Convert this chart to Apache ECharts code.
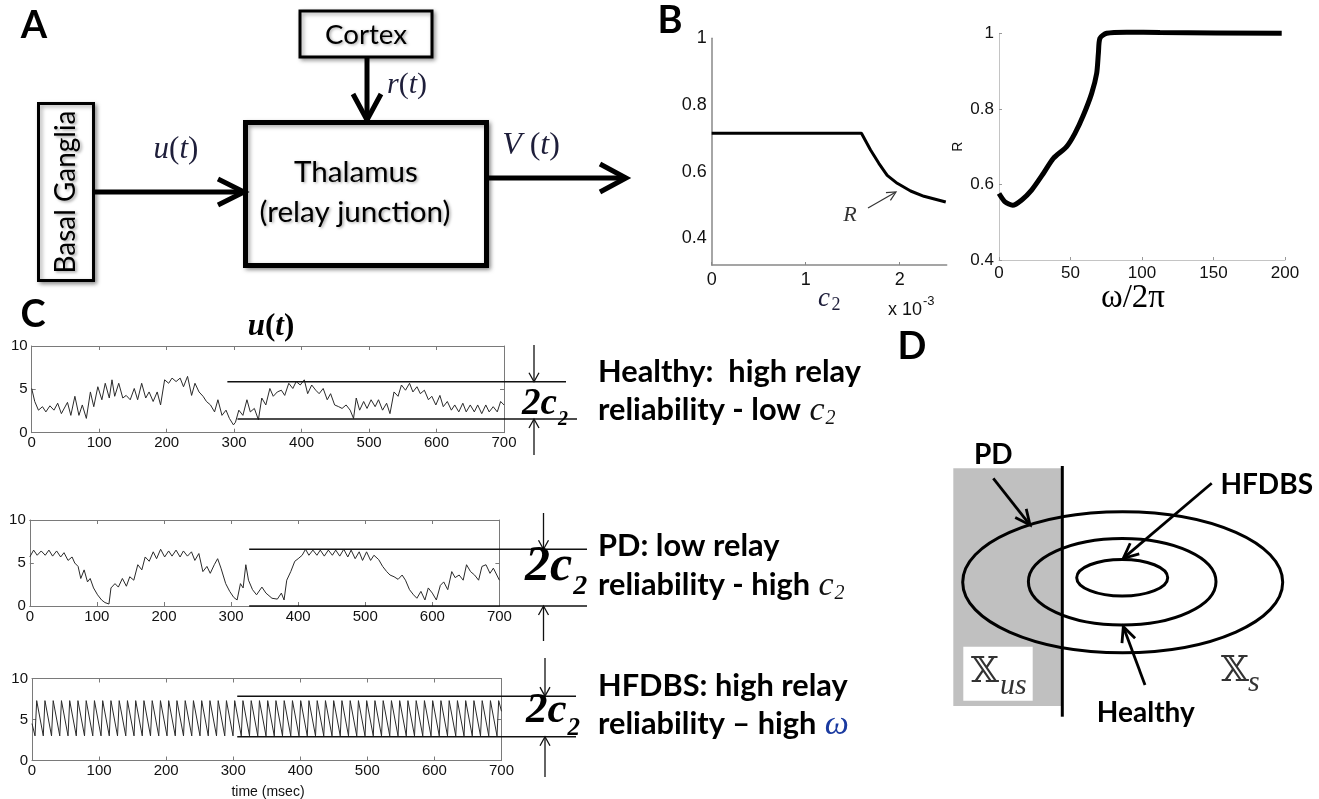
<!DOCTYPE html>
<html><head><meta charset="utf-8">
<script src="https://cdn.jsdelivr.net/npm/echarts@6/dist/echarts.min.js"></script>
<style>html,body{margin:0;padding:0;background:#fff}#main{width:1319px;height:799px}</style>
</head><body><div id="main"></div>
<script>
// ---------------- DATA ----------------
// Panel B left: R vs c2 (x 1e-3)
const c2Curve = [[0,0.715],[1.593,0.715],[1.69,0.665],[1.778,0.625],[1.867,0.589],[1.974,0.565],[2.116,0.542],[2.258,0.526],[2.49,0.509]];
// Panel B right: R vs omega/2pi
const omegaCurve = [[0,0.576],[4.2,0.554],[9.6,0.545],[15.9,0.559],[22.8,0.585],[31,0.629],[38,0.669],[47.3,0.70],[53.1,0.735],[59,0.783],[64.8,0.841],[68.3,0.894],[69.5,0.947],[70.6,0.987],[75.3,1.0],[89.3,1.003],[112.6,1.002],[197.7,1.0]];
// Panel C: u(t), time in msec
const healthyU = [[0,5.1],[4.5,3.6],[10,2.6],[16,3.0],[21,2.4],[27,3.1],[33,2.6],[38.5,3.4],[44,2.2],[53,3.5],[58,2.0],[64,4.2],[70,2.0],[75,3.2],[81,1.65],[87,4.7],[92,3.0],[98,5.3],[104,3.8],[109,5.7],[115,4.0],[119,6.1],[123,4.2],[129,5.7],[135,4.0],[140,4.3],[146,3.8],[152,5.1],[157,3.8],[163,5.7],[169,4.0],[174,4.7],[180,3.6],[186,4.7],[191,3.2],[197,6.1],[203,5.7],[208,6.3],[214,5.9],[220,6.3],[225,5.3],[231,6.5],[237,4.3],[242,5.7],[248,4.7],[254,4.2],[259,3.6],[265,3.2],[271,2.4],[276,3.8],[282,2.0],[288,2.6],[293,1.65],[299,0.9],[302,1.2],[307,2.6],[313,2.0],[319,3.8],[324,2.4],[330,2.8],[336,1.5],[341,4.0],[347,3.2],[353,5.1],[358,4.2],[364,4.7],[370,4.9],[375,4.3],[381,5.7],[387,5.1],[392,5.9],[398,5.5],[404,6.1],[409,4.5],[415,5.5],[421,4.9],[426,4.5],[432,5.1],[438,3.8],[443,4.5],[449,3.2],[455,3.0],[460,2.8],[466,3.2],[472,2.6],[477,1.65],[481,4.0],[486,2.6],[492,3.6],[497,2.8],[503,3.8],[509,3.0],[514,3.8],[520,2.6],[526,3.4],[531,2.2],[537,4.7],[543,4.2],[548,5.5],[554,4.9],[560,5.7],[565,4.7],[571,5.3],[576,4.5],[582,4.9],[588,3.8],[593,4.2],[599,3.2],[605,4.3],[610,3.0],[616,3.6],[622,2.6],[627,3.2],[633,2.4],[639,3.4],[644,2.4],[650,3.2],[656,2.4],[661,3.2],[667,2.2],[673,3.2],[678,2.4],[684,3.0],[690,2.4],[695,3.6],[700,3.2]];
const pdU = [[0,5.7],[5.7,6.5],[11,5.9],[17,6.4],[23,5.9],[28.5,6.5],[34,5.8],[40,6.4],[46,5.7],[51,6.2],[57,5.3],[63,5.7],[67,5.0],[72,4.6],[76,3.2],[81,4.2],[86,2.8],[90,3.2],[95,2.1],[101,1.3],[107,0.7],[112,0.4],[118,0.23],[121,2.1],[127,2.6],[132,2.2],[138,3.2],[144,2.3],[149,3.4],[155,3.0],[161,4.8],[167,4.2],[172,5.7],[178,5.2],[184,6.3],[189,5.5],[195,6.6],[201,5.7],[207,6.4],[212,5.8],[218,6.5],[224,5.7],[229,6.4],[235,5.8],[241,6.3],[246,5.3],[252,6.1],[258,4.0],[264,4.6],[269,3.8],[275,4.8],[280,5.5],[285,4.4],[292,2.6],[298,1.7],[304,1.0],[309,0.7],[314,2.6],[318,2.1],[322,4.8],[326,3.0],[332,1.9],[338,1.3],[346,2.2],[352,1.5],[361,0.9],[369,0.8],[375,1.5],[379,0.7],[383,3.0],[389,4.0],[395,5.2],[400,5.5],[406,5.9],[411,6.6],[416,5.9],[422,6.5],[428,5.9],[433,6.5],[439,5.8],[445,6.5],[451,5.9],[456,6.5],[462,5.8],[468,6.6],[474,5.7],[479,6.5],[485,5.5],[491,6.3],[496,5.3],[502,6.3],[508,5.3],[513,5.9],[520,5.4],[526,4.6],[532,4.0],[537,3.6],[543,3.4],[549,3.1],[555,3.6],[560,3.0],[566,1.9],[572,1.3],[577,0.9],[583,1.7],[589,0.7],[594,2.1],[600,1.5],[606,0.7],[612,2.4],[617,2.8],[623,1.9],[629,4.0],[634,3.3],[640,3.6],[646,3.0],[651,4.8],[657,4.0],[663,3.6],[669,3.0],[674,4.6],[680,4.8],[686,3.8],[691,4.4],[700,3.0]];
const hfdbsU = [[0,4.5],[4.5,3.0],[7.0,7.3],[16.8,3.0],[19.3,7.3],[29.1,3.0],[31.6,7.3],[41.4,3.0],[43.9,7.3],[53.7,3.0],[56.2,7.3],[66.0,3.0],[68.5,7.3],[78.3,3.0],[80.8,7.3],[90.6,3.0],[93.1,7.3],[102.9,3.0],[105.4,7.3],[115.2,3.0],[117.7,7.3],[127.5,3.0],[130.0,7.3],[139.8,3.0],[142.3,7.3],[152.1,3.0],[154.6,7.3],[164.4,3.0],[166.9,7.3],[176.7,3.0],[179.2,7.3],[189.0,3.0],[191.5,7.3],[201.3,3.0],[203.8,7.3],[213.6,3.0],[216.1,7.3],[225.9,3.0],[228.4,7.3],[238.2,3.0],[240.7,7.3],[250.5,3.0],[253.0,7.3],[262.8,3.0],[265.3,7.3],[275.1,3.0],[277.6,7.3],[287.4,3.0],[289.9,7.3],[299.7,3.0],[302.2,7.3],[312.0,3.0],[314.5,7.3],[324.3,3.0],[326.8,7.3],[336.6,3.0],[339.1,7.3],[348.9,3.0],[351.4,7.3],[361.2,3.0],[363.7,7.3],[373.5,3.0],[376.0,7.3],[385.8,3.0],[388.3,7.3],[398.1,3.0],[400.6,7.3],[410.4,3.0],[412.9,7.3],[422.7,3.0],[425.2,7.3],[435.0,3.0],[437.5,7.3],[447.3,3.0],[449.8,7.3],[459.6,3.0],[462.1,7.3],[471.9,3.0],[474.4,7.3],[484.2,3.0],[486.7,7.3],[496.5,3.0],[499.0,7.3],[508.8,3.0],[511.3,7.3],[521.1,3.0],[523.6,7.3],[533.4,3.0],[535.9,7.3],[545.7,3.0],[548.2,7.3],[558.0,3.0],[560.5,7.3],[570.3,3.0],[572.8,7.3],[582.6,3.0],[585.1,7.3],[594.9,3.0],[597.4,7.3],[607.2,3.0],[609.7,7.3],[619.5,3.0],[622.0,7.3],[631.8,3.0],[634.3,7.3],[644.1,3.0],[646.6,7.3],[656.4,3.0],[658.9,7.3],[668.7,3.0],[671.2,7.3],[681.0,3.0],[683.5,7.3],[693.3,3.0],[695.8,7.3],[700,6.0]];
// 2c2 band levels [startTime, value]
const healthyBand = [[290,5.88],[305,1.58]];
const pdBand = [[327,6.6],[327,0]];
const hfdbsBand = [[306,7.85],[306,2.9]];
// texts
const stateLines = [
  ['Healthy:  high relay', 'reliability - low ', 'c2'],
  ['PD: low relay', 'reliability - high ', 'c2'],
  ['HFDBS: high relay', 'reliability \u2013 high ', '\u03c9']
];

// ---------------- helpers ----------------
const SANS = "Lato, 'Open Sans', sans-serif";
const AX = "'Liberation Sans', Arial, sans-serif";
const SERIF = "'Liberation Serif', 'DejaVu Serif', serif";
const mctx = document.createElement('canvas').getContext('2d');
function tw(text, size, fam, weight, style) {
  mctx.font = (style || 'normal') + ' ' + (weight || 'normal') + ' ' + size + 'px ' + fam;
  return mctx.measureText(text).width;
}
function fit(text, fam, weight, style, target) { return 100 * target / tw(text, 100, fam, weight, style); }
function txt(text, x, y, o) {
  return { type: 'text', x: x, y: y, z: 100, style: Object.assign({
    text: text, fill: '#000', align: 'left', textAlign: 'left', verticalAlign: 'middle', textVerticalAlign: 'middle',
    fontFamily: SANS, fontSize: 14 }, o || {}) };
}
function ctxt(text, x, y, o) { return txt(text, x, y, Object.assign({ align: 'center', textAlign: 'center' }, o || {})); }
function mathText(cx, cy, tokens, size, color, weight) {
  let total = 0;
  const ws = tokens.map(t => { const w = tw(t[0], size, SERIF, weight, t[1] ? 'italic' : 'normal'); total += w; return w; });
  let x = cx - total / 2;
  return tokens.map((t, i) => { const e = txt(t[0], x, cy, { fontFamily: SERIF, fontSize: size, fontStyle: t[1] ? 'italic' : 'normal', fontWeight: weight || 'normal', fill: color }); x += ws[i]; return e; });
}
function arrow(x1, y1, x2, y2, lw, hl, hw, color) {
  const a = Math.atan2(y2 - y1, x2 - x1);
  const bx = x2 - hl * Math.cos(a), by = y2 - hl * Math.sin(a);
  const px = -Math.sin(a) * hw, py = Math.cos(a) * hw;
  return [
    { type: 'line', z: 50, shape: { x1: x1, y1: y1, x2: x2 - Math.cos(a) * lw * 0.5, y2: y2 - Math.sin(a) * lw * 0.5 }, style: { stroke: color, lineWidth: lw } },
    { type: 'polyline', z: 50, shape: { points: [[bx + px, by + py], [x2, y2], [bx - px, by - py]] }, style: { stroke: color, lineWidth: lw, fill: null, lineJoin: 'miter' } }
  ];
}
function hline(x1, x2, y, lw) { return { type: 'line', z: 40, shape: { x1: x1, y1: y, x2: x2, y2: y }, style: { stroke: '#111', lineWidth: lw || 1.5 } }; }

// ---------------- chart ----------------
const chart = echarts.init(document.getElementById('main'), null, { renderer: 'canvas' });

const cGrid = (l, t, w, h) => ({ left: l, top: t, width: w, height: h, outerBoundsMode: 'none', containLabel: false });
const boxColor = '#7a7a7a';
function cX(grid, top) {
  return { type: 'value', gridIndex: grid, min: 0, max: 700, interval: 100, position: top ? 'top' : 'bottom',
    axisLine: { show: true, onZero: false, lineStyle: { color: boxColor, width: 1 } },
    axisTick: { show: true, inside: true, length: 4, lineStyle: { color: boxColor } },
    axisLabel: { show: !top, margin: 3, fontFamily: AX, fontSize: 15, color: '#111' },
    splitLine: { show: false } };
}
function cY(grid, right) {
  return { type: 'value', gridIndex: grid, min: 0, max: 10, interval: 5, position: right ? 'right' : 'left',
    axisLine: { show: true, onZero: false, lineStyle: { color: boxColor, width: 1 } },
    axisTick: { show: true, inside: true, length: 4, lineStyle: { color: boxColor } },
    axisLabel: { show: !right, margin: 4, fontFamily: AX, fontSize: 15, color: '#111' },
    splitLine: { show: false } };
}

const option = {
  animation: false,
  backgroundColor: '#fff',
  grid: [
    cGrid(711.7, 38.3, 235, 226.7),
    cGrid(999, 33.3, 286, 226.7),
    cGrid(31.7, 346, 472.3, 86.7),
    cGrid(29.8, 520, 469.6, 86),
    cGrid(32, 678.5, 469.5, 82)
  ],
  xAxis: [
    { type: 'value', gridIndex: 0, min: 0, max: 2.5, interval: 1,
      axisLine: { onZero: false, lineStyle: { color: '#888', width: 1.5 } },
      axisTick: { show: true, inside: true, length: 3, lineStyle: { color: '#888' } },
      axisLabel: { margin: 6, fontFamily: AX, fontSize: 18, color: '#111', showMaxLabel: false },
      splitLine: { show: false } },
    { type: 'value', gridIndex: 1, min: 0, max: 200, interval: 50,
      axisLine: { onZero: false, lineStyle: { color: '#c4c4c4', width: 1 } },
      axisTick: { show: true, inside: true, length: 3, lineStyle: { color: '#999' } },
      axisLabel: { margin: 5, fontFamily: AX, fontSize: 17, color: '#111' },
      splitLine: { show: false } },
    cX(2, false), cX(2, true), cX(3, false), cX(3, true), cX(4, false), cX(4, true)
  ],
  yAxis: [
    { type: 'value', gridIndex: 0, min: 0.32, max: 1.0, interval: 0.04,
      axisLine: { show: true, onZero: false, lineStyle: { color: '#888', width: 1.5 } },
      axisTick: { show: false },
      axisLabel: { margin: 5, fontFamily: AX, fontSize: 18, color: '#111',
        formatter: v => { const r = Math.round(v * 5) / 5; if (Math.abs(v - r) > 1e-6 || r < 0.39) return ''; return r > 0.99 ? '1' : r.toFixed(1); } },
      splitLine: { show: false } },
    { type: 'value', gridIndex: 1, min: 0.4, max: 1.0, interval: 0.2,
      name: 'R', nameLocation: 'middle', nameGap: 34, nameRotate: 90,
      nameTextStyle: { fontFamily: AX, fontSize: 14, color: '#111' },
      axisLine: { show: true, onZero: false, lineStyle: { color: '#c4c4c4', width: 1 } },
      axisTick: { show: true, inside: true, length: 3, lineStyle: { color: '#999' } },
      axisLabel: { margin: 5, fontFamily: AX, fontSize: 17, color: '#111',
        formatter: v => v > 0.99 ? '1' : v.toFixed(1) },
      splitLine: { show: false } },
    cY(2, false), cY(2, true), cY(3, false), cY(3, true), cY(4, false), cY(4, true)
  ],
  series: [
    { type: 'line', xAxisIndex: 0, yAxisIndex: 0, data: c2Curve, showSymbol: false, clip: false,
      lineStyle: { color: '#000', width: 3 } },
    { type: 'line', xAxisIndex: 1, yAxisIndex: 1, data: omegaCurve, showSymbol: false, clip: false, smooth: 0.25,
      lineStyle: { color: '#000', width: 5 } },
    { type: 'line', xAxisIndex: 2, yAxisIndex: 2, data: healthyU, showSymbol: false, lineStyle: { color: '#2a2a2a', width: 1 } },
    { type: 'line', xAxisIndex: 4, yAxisIndex: 4, data: pdU, showSymbol: false, lineStyle: { color: '#2a2a2a', width: 1 } },
    { type: 'line', xAxisIndex: 6, yAxisIndex: 6, data: hfdbsU, showSymbol: false, lineStyle: { color: '#2a2a2a', width: 1 } }
  ]
};
chart.setOption(option);

// ---------------- graphics ----------------
const G = [];
const shadow = { textShadowColor: 'rgba(0,0,0,0.35)', textShadowBlur: 3, textShadowOffsetX: 1.5, textShadowOffsetY: 1.5 };
const MATH = '#1e1e3a';

// panel letters
[['A', 34, 26], ['B', 670, 21], ['C', 33, 315], ['D', 912, 347]].forEach(p =>
  G.push(ctxt(p[0], p[1], p[2], { fontFamily: SANS, fontWeight: 'bold', fontSize: 38 })));

// ---- Panel A ----
const boxShadow = { shadowBlur: 4, shadowColor: 'rgba(0,0,0,0.35)', shadowOffsetX: 2, shadowOffsetY: 2 };
G.push({ type: 'rect', z: 30, shape: { x: 300, y: 11, width: 132, height: 46 }, style: Object.assign({ fill: '#fff', stroke: '#000', lineWidth: 3 }, boxShadow) });
G.push({ type: 'rect', z: 30, shape: { x: 245.5, y: 122.5, width: 241, height: 143 }, style: Object.assign({ fill: '#fff', stroke: '#000', lineWidth: 5 }, boxShadow) });
G.push({ type: 'rect', z: 30, shape: { x: 38.5, y: 103.5, width: 55, height: 177 }, style: Object.assign({ fill: '#fff', stroke: '#000', lineWidth: 3 }, boxShadow) });
const fCortex = fit('Cortex', SANS, 'normal', 'normal', 82);
G.push(ctxt('Cortex', 366, 35, Object.assign({ fontFamily: SANS, fontSize: fCortex }, shadow)));
const fTh = fit('(relay junction)', SANS, 'normal', 'normal', 191);
G.push(ctxt('Thalamus', 356, 172, Object.assign({ fontFamily: SANS, fontSize: fTh }, shadow)));
G.push(ctxt('(relay junction)', 355, 212, Object.assign({ fontFamily: SANS, fontSize: fTh }, shadow)));
const fBG = fit('Basal Ganglia', SANS, 'normal', 'normal', 163);
G.push({ type: 'text', z: 100, x: 66, y: 192, rotation: Math.PI / 2,
  style: Object.assign({ text: 'Basal Ganglia', fill: '#000', align: 'center', textAlign: 'center', verticalAlign: 'middle', textVerticalAlign: 'middle', fontFamily: SANS, fontSize: fBG }, shadow) });
arrow(93, 192, 244, 192, 5, 26, 13, '#000').forEach(e => G.push(e));
arrow(367, 57, 367, 120, 5, 26, 14, '#000').forEach(e => G.push(e));
arrow(487, 178, 626, 178, 5, 26, 14, '#000').forEach(e => G.push(e));
mathText(176, 150, [['u', 1], ['(', 0], ['t', 1], [')', 0]], 31, MATH).forEach(e => G.push(e));
mathText(407, 85, [['r', 1], ['(', 0], ['t', 1], [')', 0]], 30, MATH).forEach(e => G.push(e));
mathText(531, 146, [['V', 1], [' (', 0], ['t', 1], [')', 0]], 32, MATH).forEach(e => G.push(e));

// ---- Panel B annotations ----
G.push(txt('c', 818, 299, { fontFamily: SERIF, fontStyle: 'italic', fontSize: 27, fill: MATH }));
G.push(txt('2', 831.5, 305, { fontFamily: SERIF, fontSize: 18, fill: MATH }));
const wx10 = tw('x 10', 18, AX, 'normal', 'normal');
G.push(txt('x 10', 888, 310, { fontFamily: AX, fontSize: 18, fill: '#111' }));
G.push(txt('-3', 888 + wx10 + 1, 301, { fontFamily: AX, fontSize: 13, fill: '#111' }));
G.push(ctxt('R', 850, 215, { fontFamily: SERIF, fontStyle: 'italic', fontSize: 22, fill: '#333' }));
arrow(868, 208, 896, 192, 1.2, 9, 4.5, '#333').forEach(e => G.push(e));
mathText(1133, 298, [['\u03c9', 0], ['/2\u03c0', 0]], 33, '#000').forEach(e => G.push(e));

// ---- Panel C annotations ----
mathText(271, 327, [['u', 1], ['(', 0], ['t', 1], [')', 0]], 31, '#000', 'bold').forEach(e => G.push(e));
G.push(ctxt('time (msec)', 268, 792, { fontFamily: AX, fontSize: 14, fill: '#111' }));

function band(gridIdx, bandDef, endTop, endBot, ax, downFrom, upTo) {
  const pTop = chart.convertToPixel({ gridIndex: gridIdx }, bandDef[0]);
  const pBot = chart.convertToPixel({ gridIndex: gridIdx }, bandDef[1]);
  G.push(hline(pTop[0], endTop, pTop[1], 1.5));
  G.push(hline(pBot[0], endBot, pBot[1], 1.5));
  arrow(ax, downFrom, ax, pTop[1], 1.3, 9, 5, '#111').forEach(e => G.push(e));
  arrow(ax, upTo, ax, pBot[1], 1.3, 9, 5, '#111').forEach(e => G.push(e));
}
band(2, healthyBand, 566, 577, 534, 345, 455);
band(3, pdBand, 587, 587, 543.5, 513, 641);
band(4, hfdbsBand, 576, 576, 545, 658, 777);

function twoC(x, yMain, fMain, ySub, fSub) {
  const w = tw('2c', fMain, SERIF, 'bold', 'italic');
  G.push(txt('2c', x, yMain, { fontFamily: SERIF, fontWeight: 'bold', fontStyle: 'italic', fontSize: fMain, fill: '#000' }));
  G.push(txt('2', x + w + 1, ySub, { fontFamily: SERIF, fontWeight: 'bold', fontStyle: 'italic', fontSize: fSub, fill: '#000' }));
}
twoC(522, 404, 37, 420, 20);
twoC(525, 567, 50, 587, 28);
twoC(526, 711, 43, 729, 25);

const fState = fit(stateLines[0][0], SANS, 'bold', 'normal', 263);
const stateY = [[372.5, 410], [545.7, 585], [685.7, 724]];
stateLines.forEach((ln, i) => {
  G.push(txt(ln[0], 598, stateY[i][0], { fontFamily: SANS, fontWeight: 'bold', fontSize: fState }));
  G.push(txt(ln[1], 598, stateY[i][1], { fontFamily: SANS, fontWeight: 'bold', fontSize: fState }));
  const w = tw(ln[1], fState, SANS, 'bold', 'normal');
  if (ln[2] === 'c2') {
    G.push(txt('c', 598 + w + 1, stateY[i][1] + 1, { fontFamily: SERIF, fontStyle: 'italic', fontSize: 34, fill: '#111' }));
    G.push(txt('2', 598 + w + 17, stateY[i][1] + 9, { fontFamily: SERIF, fontStyle: 'italic', fontSize: 20, fill: '#111' }));
  } else {
    G.push(txt('\u03c9', 598 + w + 1, stateY[i][1] + 1, { fontFamily: SERIF, fontStyle: 'italic', fontSize: 34, fill: '#1a3aa0' }));
  }
});

// ---- Panel D ----
G.push({ type: 'rect', z: 10, shape: { x: 953.3, y: 468.3, width: 108.4, height: 237.7 }, style: { fill: '#c0c0c0', stroke: null } });
G.push({ type: 'rect', z: 11, shape: { x: 963.3, y: 646.7, width: 69.4, height: 54 }, style: { fill: '#fff', stroke: null } });
[[1122.7, 582.2, 160, 70.5], [1122.2, 581.7, 93.8, 43.3], [1122.2, 577.7, 45.5, 18.3]].forEach(e =>
  G.push({ type: 'ellipse', z: 20, shape: { cx: e[0], cy: e[1], rx: e[2], ry: e[3] }, style: { fill: null, stroke: '#000', lineWidth: 3 } }));
G.push({ type: 'line', z: 21, shape: { x1: 1062.3, y1: 466, x2: 1062.3, y2: 716.7 }, style: { stroke: '#000', lineWidth: 3 } });
const fD = fit('Healthy', SANS, 'bold', 'normal', 98);
G.push(ctxt('PD', 993.3, 455, { fontFamily: SANS, fontWeight: 'bold', fontSize: fD }));
G.push(ctxt('HFDBS', 1266.7, 485, { fontFamily: SANS, fontWeight: 'bold', fontSize: fD }));
G.push(ctxt('Healthy', 1145.8, 713.3, { fontFamily: SANS, fontWeight: 'bold', fontSize: fD }));
arrow(993.3, 478.3, 1030, 525, 2.8, 15, 7, '#000').forEach(e => G.push(e));
arrow(1211.7, 483.3, 1123.3, 558.3, 2.8, 15, 7, '#000').forEach(e => G.push(e));
arrow(1145, 685, 1123.3, 626.7, 2.8, 15, 7, '#000').forEach(e => G.push(e));
G.push(txt('\ud835\udd4f', 971, 673, { fontFamily: "'DejaVu Serif', 'DejaVu Sans', serif", fontSize: 36, fill: '#333' }));
G.push(txt('us', 1000, 686, { fontFamily: SERIF, fontStyle: 'italic', fontSize: 30, fill: '#333' }));
G.push(txt('\ud835\udd4f', 1221, 672, { fontFamily: "'DejaVu Serif', 'DejaVu Sans', serif", fontSize: 36, fill: '#333' }));
G.push(txt('s', 1248, 683, { fontFamily: SERIF, fontStyle: 'italic', fontSize: 30, fill: '#333' }));

chart.setOption({ graphic: { elements: G } });
</script>
</body></html>
